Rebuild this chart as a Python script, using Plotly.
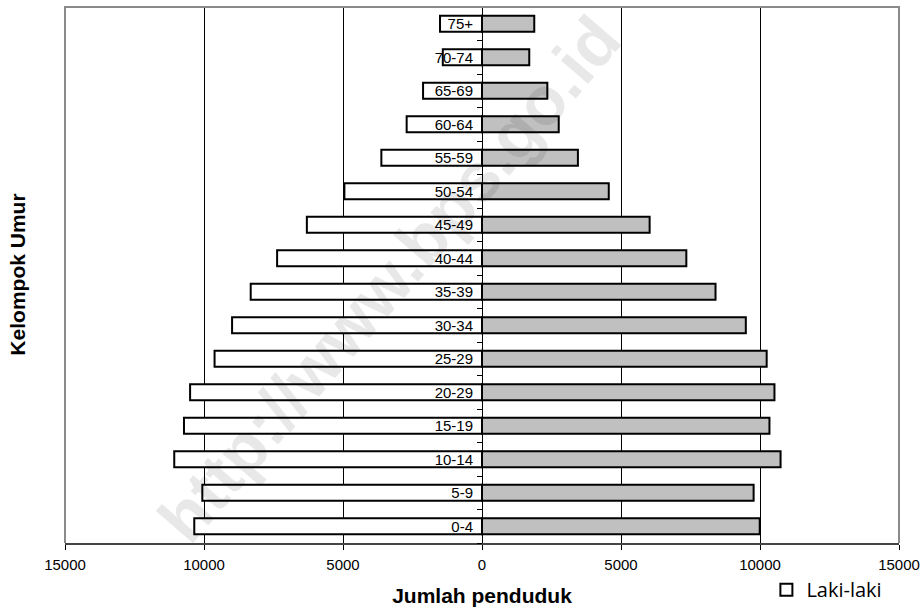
import plotly.graph_objects as go

# Age groups, youngest at the bottom
kelompok_umur = ["0-4", "5-9", "10-14", "15-19", "20-29", "25-29", "30-34", "35-39",
                 "40-44", "45-49", "50-54", "55-59", "60-64", "65-69", "70-74", "75+"]

# Population per age group
laki_laki = [10350, 10060, 11070, 10720, 10500, 9620, 8990, 8320,
             7370, 6300, 4950, 3620, 2710, 2120, 1410, 1510]
perempuan = [9990, 9770, 10740, 10340, 10520, 10240, 9490, 8400,
             7350, 6030, 4560, 3450, 2760, 2350, 1700, 1880]

x_ticks = [-15000, -10000, -5000, 0, 5000, 10000, 15000]
x_tick_text = [str(abs(v)) for v in x_ticks]

FONT = "Arial"

fig = go.Figure()

fig.add_trace(go.Bar(
    name="Laki-laki",
    y=kelompok_umur,
    x=[-v for v in laki_laki],
    orientation="h",
    marker=dict(color="white", line=dict(color="black", width=2)),
    customdata=laki_laki,
    hovertemplate="%{y}: %{customdata}<extra>Laki-laki</extra>",
))
fig.add_trace(go.Bar(
    name="Perempuan",
    y=kelompok_umur,
    x=perempuan,
    orientation="h",
    marker=dict(color="#c0c0c0", line=dict(color="black", width=2)),
    showlegend=False,
    hovertemplate="%{y}: %{x}<extra>Perempuan</extra>",
))

fig.update_layout(
    width=922,
    height=613,
    margin=dict(l=65, r=23, t=7, b=70, autoexpand=False),
    paper_bgcolor="white",
    plot_bgcolor="white",
    barmode="overlay",
    bargap=0.52,
    font=dict(family=FONT, color="black"),
    xaxis=dict(
        range=[-15000, 15000],
        tickvals=x_ticks,
        ticktext=x_tick_text,
        tickfont=dict(size=15, family=FONT, color="black"),
        ticklabelstandoff=2,
        showgrid=True,
        gridcolor="black",
        gridwidth=1,
        zeroline=False,
        showline=True,
        linecolor="#444444",
        linewidth=2,
        ticks="outside",
        ticklen=5,
        tickcolor="black",
        title=dict(text="<b>Jumlah penduduk</b>",
                   font=dict(size=21, family=FONT, color="black"),
                   standoff=16),
    ),
    yaxis=dict(
        type="category",
        categoryorder="array",
        categoryarray=kelompok_umur,
        anchor="free",
        position=0.5,
        showline=True,
        linecolor="black",
        linewidth=1,
        ticks="outside",
        ticklen=5,
        tickcolor="black",
        tickson="boundaries",
        ticklabelstandoff=6,
        tickfont=dict(size=15, family=FONT, color="black"),
        showgrid=False,
        zeroline=False,
    ),
    legend=dict(
        x=0.841, xanchor="left",
        y=-0.087, yanchor="middle",
        bgcolor="rgba(0,0,0,0)",
        font=dict(size=20, family="Open Sans", color="black"),
    ),
    shapes=[
        # grey frame around the plot area (left, top, right)
        dict(type="path", xref="paper", yref="paper",
             path="M0,0 L0,1 L1,1 L1,0",
             line=dict(color="#8a8a8a", width=2), layer="above"),
    ],
    annotations=[
        dict(text="<b>Kelompok Umur</b>", xref="paper", yref="paper",
             x=-0.058, y=0.5, textangle=-90, showarrow=False,
             xanchor="center", yanchor="middle",
             font=dict(size=21, family=FONT, color="black")),
        dict(text="<b>http://www.bps.go.id</b>", xref="paper", yref="paper",
             x=0.388, y=0.493, textangle=-49.3, showarrow=False,
             xanchor="center", yanchor="middle",
             font=dict(size=68, family=FONT, color="rgba(0,0,0,0.09)")),
    ],
)

fig.write_html("out.html")
